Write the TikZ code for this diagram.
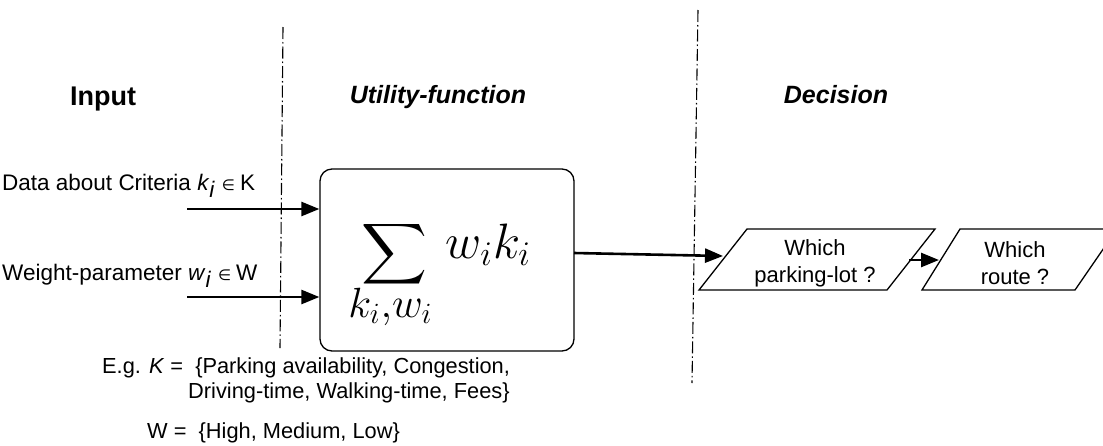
\documentclass[tikz,border=0pt]{standalone}
\usepackage{amsmath}
\usepackage{graphicx}
\usepackage[no-math]{fontspec}
\setmainfont{Liberation Sans}
\newfontfamily\djv{DejaVu Sans}
\usetikzlibrary{arrows.meta}
\newsavebox\sumglyph
\begin{document}
\sbox\sumglyph{\resizebox*{33pt}{34pt}{$\displaystyle\sum$}}
\begin{tikzpicture}[x=1pt,y=-1pt,
  arr/.style={line width=2.6pt,-{Triangle[length=18pt,width=14pt]}},
  sep/.style={line width=1.1pt, dash pattern=on 12pt off 3pt on 1.5pt off 3pt},
  shp/.style={line width=1.3pt},
  txt/.style={inner sep=0pt, anchor=base west},
  ttl/.style={inner sep=0pt, anchor=base},
  lbl/.style={txt, font=\fontsize{22.5}{27}\selectfont},
  eg/.style={txt, font=\fontsize{21.8}{26}\selectfont},
  ptxt/.style={inner sep=0pt, align=center, font=\fontsize{22}{27}\selectfont},
  ]
\useasboundingbox (0,0) rectangle (1103,445);

% separators
\coordinate (s1t) at (283,27);
\coordinate (s1b) at (280,348);
\coordinate (s2t) at (698,10);
\coordinate (s2b) at (692,383);
\draw[sep] (s1t) -- (s1b);
\draw[sep] (s2t) -- (s2b);

% titles
\node[ttl, font=\fontsize{27}{30}\selectfont\bfseries] (tin) at (103,105) {Input};
\node[ttl, font=\fontsize{25}{30}\selectfont\bfseries\itshape] (tuf) at (438,103) {Utility-function};
\node[ttl, font=\fontsize{25}{30}\selectfont\bfseries\itshape] (tdc) at (836,103) {Decision};

% utility box
\node[draw, shp, rounded corners=12pt, minimum width=254pt, minimum height=182pt, inner sep=0pt] (box) at (447,260) {};
\node[inner sep=0pt, scale=2, anchor=base west] (f) at (348,258) {\fontsize{23}{27}\selectfont $\displaystyle\mathop{\vcenter{\hbox{\smash{\rlap{\kern2pt\lower4.5pt\copy\sumglyph}}\phantom{\usebox\sumglyph}}}}\limits_{\scalebox{0.85}{$k_i{,}w_i$}}\hspace{2.5pt}w_ik_i$};

% inputs
\node[lbl] (lk) at (2,190) {Data about Criteria \textit{k}\raisebox{-7pt}{\textit{i}}\hspace{7pt}{\djv\fontsize{15}{15}\selectfont ∈}\hspace{5pt}K};
\node[lbl] (lw) at (2,280) {Weight-parameter \textit{w}\raisebox{-7pt}{\textit{i}}\hspace{7pt}{\djv\fontsize{15}{15}\selectfont ∈}\hspace{5pt}W};
\coordinate (a1) at (187,209);
\coordinate (a2) at (187,297);
\draw[arr] (a1) -- (a1 -| box.west);
\draw[arr] (a2) -- (a2 -| box.west);

% examples
\node[eg] (eg1) at (102,373) {E.g. \textit{K} = \ \{Parking availability, Congestion,};
\node[eg] (eg2) at (188,398) {Driving-time, Walking-time, Fees\}};
\node[eg] (eg3) at (147,438) {W = \ \{High, Medium, Low\}};

% decisions
\draw[shp] (699,290) -- (887,290) -- (935,229) -- (747,229) -- cycle;
\draw[shp] (922,290) -- (1075,290) -- (1117,229) -- (960,229) -- cycle;
\node[ptxt] (p1) at (815,263) {Which\\parking-lot ?};
\node[ptxt] (p2) at (1015,263) {Which\\route ?};

\coordinate (out1) at (574,253);
\coordinate (p1in) at (723,256);
\coordinate (p1out) at (909,260);
\coordinate (p2in) at (939,260);
\draw[arr] (out1) -- (p1in);
\draw[arr] (p1out) -- (p2in);
\end{tikzpicture}
\end{document}
